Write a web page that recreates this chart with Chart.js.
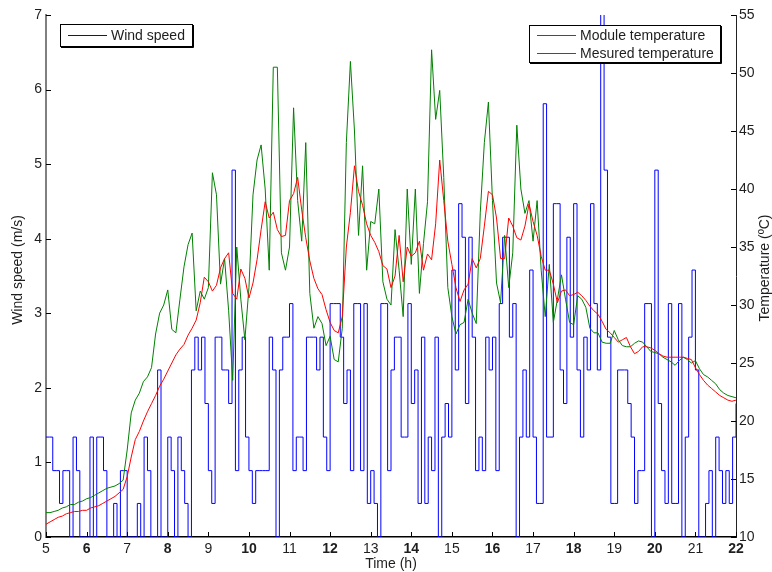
<!DOCTYPE html>
<html>
<head>
<meta charset="utf-8">
<script src="https://cdn.jsdelivr.net/npm/chart.js@4.4.1/dist/chart.umd.min.js"></script>
<style>
html,body{margin:0;padding:0;background:#fff;}
#wrap{width:772px;height:572px;position:relative;}
</style>
</head>
<body>
<div id="wrap"><canvas id="c" width="772" height="572"></canvas></div>
<script>
// ---- Data ----
const timeStart = 5;          // h
const timeEnd = 22;           // h
const windStepHours = 1 / 12; // 5-minute wind samples
const tempStepHours = 0.1;    // temperature samples every 6 minutes

const xTickLabels = [5,6,7,8,9,10,11,12,13,14,15,16,17,18,19,20,21,22];
const windTickLabels = [0,1,2,3,4,5,6,7];
const tempTickLabels = [10,15,20,25,30,35,40,45,50,55];

// Wind speed (m/s), one value per 5 minutes from 5:00, last value at 22:00
const windSpeed = [
1.34,1.34,0.89,0.89,0.45,0.89,0.89,0,1.34,0.89,0,0,
0,1.34,0,1.34,1.34,0.89,0,0,0.45,0,0.89,0.89,
0,0,0,0.45,0,1.34,0.89,0,0,2.24,0,0,
1.34,0.89,0,1.34,0.89,0.45,0,2.24,2.68,2.24,2.68,1.79,
0.89,0.45,2.68,2.68,2.24,2.24,1.79,4.92,0.89,2.24,2.68,1.34,
0.89,0.45,0.89,0.89,0.89,0.89,2.68,2.24,0,2.24,2.68,2.68,
3.13,0.89,1.34,1.34,0.89,2.68,2.68,2.68,2.24,2.68,1.34,0.89,
3.13,3.13,3.13,2.68,1.79,2.24,0.89,3.13,3.13,0.89,3.13,0.45,
0.89,0.45,0,3.13,3.13,0.89,2.24,2.68,2.68,1.34,1.34,3.13,
1.79,2.24,0.45,2.68,0.45,1.34,0.89,2.68,0,1.34,1.79,1.34,
3.58,2.24,4.47,4.02,1.79,4.02,2.68,0.89,1.34,0.89,2.68,2.24,
2.68,0.89,3.13,4.02,4.02,2.68,3.13,0,1.34,2.24,1.34,3.58,
1.34,0.45,0.45,5.81,1.34,1.34,4.47,4.47,2.24,1.79,4.02,2.68,
4.47,2.24,1.34,2.68,2.24,4.47,3.13,2.24,7.6,4.92,2.68,0.45,
0.45,2.24,2.24,2.24,1.79,1.34,0.45,0.89,0.89,3.13,3.13,0,
4.92,1.79,0.89,0.45,3.13,0.45,0.45,3.13,0,1.34,2.68,3.58,
2.24,0,0,0.45,0.89,0,1.34,0.89,0.45,0.89,0.45,1.34,
1.79
];

// Module temperature (°C), every 0.1 h from 5:00 to 22:00
const moduleTemp = [
12.1,12.1,12.2,12.3,12.5,12.6,12.8,12.8,13.0,13.1,
13.3,13.4,13.6,13.8,14.0,14.2,14.3,14.4,14.6,14.9,
17.5,20.7,21.8,22.4,23.4,23.8,24.6,27.5,29.3,30.0,
31.3,27.9,27.6,30.5,33.3,35.2,36.2,29.5,31.2,30.5,
31.5,41.4,39.5,31.8,34.0,29.5,23.5,35.0,30.5,27.0,
31.5,39.5,42.5,43.8,40.0,33.0,50.5,50.5,34.5,33.0,
35.0,47.0,39.0,35.5,44.0,31.0,28.0,29.0,28.4,26.5,
27.3,25.3,25.1,28.0,44.0,51.0,45.0,36.0,42.0,33.0,
37.2,37.0,40.0,32.0,30.5,30.0,36.5,33.0,29.0,40.0,
33.5,40.0,31.0,35.3,38.9,52.0,46.0,48.5,41.0,31.5,
29.0,27.5,28.3,28.5,30.5,29.3,28.4,38.0,44.0,47.5,
39.0,31.9,30.2,36.0,31.5,34.5,45.5,40.0,37.9,39.0,
35.5,39.0,33.0,29.0,33.5,28.5,30.5,32.6,30.5,28.5,
28.3,30.8,30.5,29.8,28.0,27.6,27.6,26.8,26.7,26.7,
27.8,27.0,26.5,26.4,26.4,26.7,26.9,26.8,26.4,26.0,
25.9,25.8,25.5,25.3,25.1,24.8,25.2,25.5,25.3,25.0,
25.2,24.5,24.0,23.8,23.5,23.2,22.7,22.4,22.2,22.1,
22.0
];

// Measured temperature (°C), every 0.1 h from 5:00 to 22:00
const measuredTemp = [
11.1,11.3,11.5,11.7,11.8,12.0,12.1,12.2,12.2,12.3,
12.3,12.5,12.6,12.7,12.9,13.1,13.3,13.5,13.8,14.1,
15.2,16.9,18.4,19.1,20.0,20.8,21.5,22.2,23.0,23.6,
24.3,25.0,25.7,26.2,26.6,27.4,28.0,28.7,30.2,32.4,
32.0,31.2,31.7,33.2,34.0,34.5,31.0,30.5,33.1,32.3,
30.6,31.9,33.9,36.5,38.9,37.5,38.0,36.5,35.9,36.0,
39.0,39.6,41.0,38.2,35.8,33.8,32.3,31.4,30.9,29.6,
28.5,27.8,27.6,29.0,35.0,38.0,42.0,39.8,38.6,37.0,
36.0,35.4,34.6,33.4,33.1,31.5,32.5,36.0,32.0,35.0,
34.2,34.5,35.5,33.0,34.4,33.9,37.0,42.5,39.0,35.5,
33.5,31.5,30.3,31.3,31.8,34.0,33.2,34.0,36.8,39.8,
39.5,37.5,34.0,34.0,37.5,36.8,35.8,35.6,36.8,38.7,
37.2,36.0,34.2,33.0,33.0,31.8,30.2,31.2,31.3,30.8,
30.9,31.1,30.8,30.4,29.9,29.5,29.2,28.6,27.9,27.6,
27.2,26.8,27.0,27.2,26.4,25.8,26.0,26.4,26.4,26.3,
26.1,25.8,25.6,25.5,25.5,25.5,25.5,25.5,25.4,25.3,
24.6,24.0,23.5,23.1,22.8,22.5,22.2,22.0,21.8,21.7,
21.8
];

const seriesLabels = ['Wind speed', 'Module temperature', 'Mesured temperature'];
const seriesColors = ['#0000ff', '#008000', '#ff0000'];

// ---- Build point lists from the arrays ----
const windPoints = windSpeed.map((v, i) => ({x: timeStart + i * windStepHours, y: v}));
const modulePoints = moduleTemp.map((v, i) => ({x: timeStart + i * tempStepHours, y: v}));
const measuredPoints = measuredTemp.map((v, i) => ({x: timeStart + i * tempStepHours, y: v}));

const FONT = '"Liberation Sans", Arial, sans-serif';
const TEXT = '#1e1e1e';

const decorPlugin = {
  id: 'decor',
  afterDraw(chart) {
    const ctx = chart.ctx;
    const a = chart.chartArea;
    const sx = chart.scales.x, sy = chart.scales.y, sy2 = chart.scales.y2;
    ctx.save();
    // inward tick marks
    ctx.strokeStyle = '#000';
    ctx.lineWidth = 1;
    ctx.beginPath();
    xTickLabels.forEach(v => {
      const px = Math.round(sx.getPixelForValue(v)) + 0.5;
      ctx.moveTo(px, a.bottom); ctx.lineTo(px, a.bottom - 5);
    });
    windTickLabels.forEach(v => {
      const py = Math.round(sy.getPixelForValue(v)) + 0.5;
      ctx.moveTo(a.left, py); ctx.lineTo(a.left + 5, py);
    });
    tempTickLabels.forEach(v => {
      const py = Math.round(sy2.getPixelForValue(v)) + 0.5;
      ctx.moveTo(a.right, py); ctx.lineTo(a.right - 5, py);
    });
    ctx.stroke();

    // axis titles
    ctx.fillStyle = TEXT;
    ctx.font = '14px ' + FONT;
    ctx.textAlign = 'center';
    ctx.textBaseline = 'middle';
    ctx.fillText('Time (h)', (a.left + a.right) / 2, 564);
    ctx.save();
    ctx.translate(18, 270);
    ctx.rotate(-Math.PI / 2);
    ctx.fillText('Wind speed (m/s)', 0, 0);
    ctx.restore();
    ctx.save();
    ctx.translate(765, 268);
    ctx.rotate(-Math.PI / 2);
    ctx.fillText('Temperature (\u00baC)', 0, 0);
    ctx.restore();

    // legends
    function box(x, y, w, h) {
      ctx.fillStyle = '#fff';
      ctx.fillRect(x, y, w, h);
      ctx.strokeStyle = '#000';
      ctx.lineWidth = 1;
      ctx.strokeRect(x + 0.5, y + 0.5, w, h);
      ctx.beginPath();
      ctx.moveTo(x + w + 1.5, y + 1); ctx.lineTo(x + w + 1.5, y + h + 1.5); ctx.lineTo(x + 1, y + h + 1.5);
      ctx.stroke();
    }
    function entry(x1, x2, y, color, label, tx) {
      ctx.strokeStyle = color;
      ctx.lineWidth = 1;
      ctx.beginPath();
      ctx.moveTo(x1, y + 0.5); ctx.lineTo(x2, y + 0.5);
      ctx.stroke();
      ctx.fillStyle = TEXT;
      ctx.font = '14px ' + FONT;
      ctx.textAlign = 'left';
      ctx.textBaseline = 'middle';
      ctx.fillText(label, tx, y + 1);
    }
    box(60, 24, 132, 22);
    entry(68, 107, 35, seriesColors[0], seriesLabels[0], 111);
    box(529, 25, 191, 37);
    entry(537, 576, 35, seriesColors[1], seriesLabels[1], 580);
    entry(537, 576, 53, seriesColors[2], seriesLabels[2], 580);
    ctx.restore();
  }
};

new Chart(document.getElementById('c'), {
  type: 'line',
  data: {
    datasets: [
      {label: seriesLabels[2], data: measuredPoints, yAxisID: 'y2', borderColor: seriesColors[2],
       borderWidth: 1, pointRadius: 0, tension: 0, fill: false},
      {label: seriesLabels[1], data: modulePoints, yAxisID: 'y2', borderColor: seriesColors[1],
       borderWidth: 1, pointRadius: 0, tension: 0, fill: false},
      {label: seriesLabels[0], data: windPoints, yAxisID: 'y', borderColor: seriesColors[0],
       borderWidth: 1, pointRadius: 0, stepped: true, fill: false}
    ]
  },
  options: {
    responsive: false,
    devicePixelRatio: 1,
    animation: false,
    parsing: true,
    layout: {padding: {top: 15, left: 0, right: 0, bottom: 0}},
    plugins: {legend: {display: false}, tooltip: {enabled: false}, title: {display: false}},
    scales: {
      x: {
        type: 'linear', position: 'bottom', min: timeStart, max: timeEnd,
        grid: {display: false, drawTicks: false},
        border: {display: true, color: '#000', width: 1.5},
        afterBuildTicks: s => { s.ticks = xTickLabels.map(v => ({value: v})); },
        ticks: {
          padding: 4, color: TEXT, maxRotation: 0, autoSkip: false,
          font: c => ({family: FONT, size: 14, weight: (c.tick && c.tick.value % 2 === 0) ? 'bold' : 'normal'})
        },
        afterFit: s => { s.height = 35; }
      },
      y: {
        type: 'linear', position: 'left', min: 0, max: 7,
        grid: {display: false, drawTicks: false},
        border: {display: true, color: '#808080', width: 2},
        afterBuildTicks: s => { s.ticks = windTickLabels.map(v => ({value: v})); },
        ticks: {padding: 4, color: TEXT, font: {family: FONT, size: 14}},
        afterFit: s => { s.width = 46; }
      },
      y2: {
        type: 'linear', position: 'right', min: 10, max: 55,
        grid: {display: false, drawTicks: false},
        border: {display: true, color: '#222', width: 1},
        afterBuildTicks: s => { s.ticks = tempTickLabels.map(v => ({value: v})); },
        ticks: {padding: 3, color: TEXT, font: {family: FONT, size: 14}},
        afterFit: s => { s.width = 36; }
      }
    }
  },
  plugins: [decorPlugin]
});
</script>
</body>
</html>
